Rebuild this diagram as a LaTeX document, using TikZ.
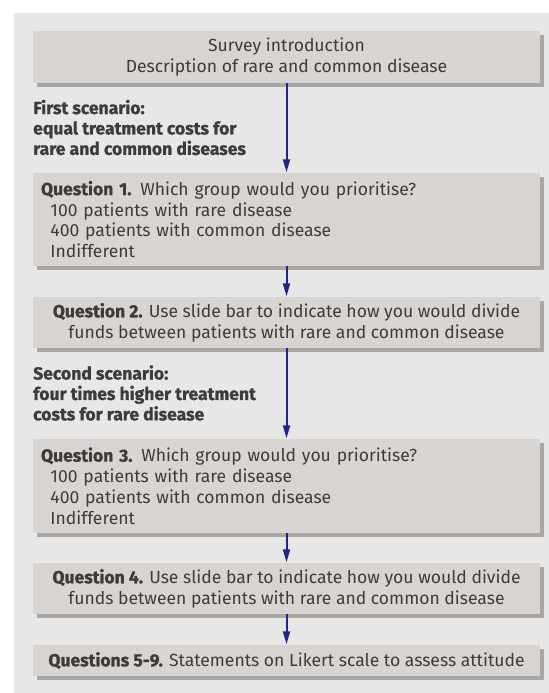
\documentclass[tikz,border=0pt]{standalone}
\usepackage{fontspec}
\setmainfont{Fira Sans}[BoldFeatures={FakeBold=1}]
\usetikzlibrary{arrows.meta,shadows}
\definecolor{bg}{HTML}{E7E7E7}
\definecolor{boxfill}{HTML}{D8D4D1}
\definecolor{shade}{HTML}{A9A6A4}
\definecolor{navy}{HTML}{25257F}
\definecolor{txt}{HTML}{3C3C3C}
\tikzset{
  box/.style={rectangle, fill=boxfill, minimum width=507bp, inner xsep=8bp, inner ysep=0pt,
    text=txt, font=\fontsize{17.6}{21}\selectfont,
    drop shadow={shadow xshift=4bp, shadow yshift=-4bp, fill=shade, opacity=1}},
  cbox/.style={box, align=center},
  lbox/.style={box, text width=491bp, align=left},
  scen/.style={anchor=west, inner sep=0pt, align=left, text=txt,
    font=\fontsize{17.6}{20.5}\selectfont\bfseries},
  arr/.style={draw=navy, line width=2bp, -{Triangle[length=13bp,width=7bp]}, shorten >=0.5bp}
}
\newcommand{\ind}{\hspace*{9.5bp}}
\begin{document}
\begin{tikzpicture}[x=1bp,y=-1bp]
\useasboundingbox (0,0) rectangle (549,693);
\fill[bg] (14,13) rectangle (549,693);

\node[cbox, minimum height=52bp] (b1) at (286.5,57) {Survey introduction\\Description of rare and common disease};

\node[scen] (s1) at (33,127.5) {First scenario:\\equal treatment costs for\\rare and common diseases};

\node[lbox, minimum height=93bp] (q1) at (286.5,219.5) {\textbf{Question 1.} Which group would you prioritise?\\\ind 100 patients with rare disease\\\ind 400 patients with common disease\\\ind Indifferent};

\node[cbox, minimum height=51bp] (q2) at (286.5,322.5) {\textbf{Question 2.} Use slide bar to indicate how you would divide\\funds between patients with rare and common disease};

\node[scen] (s2) at (33,393) {Second scenario:\\four times higher treatment\\costs for rare disease};

\node[lbox, minimum height=94bp] (q3) at (286.5,486) {\textbf{Question 3.} Which group would you prioritise?\\\ind 100 patients with rare disease\\\ind 400 patients with common disease\\\ind Indifferent};

\node[cbox, minimum height=51bp] (q4) at (286.5,588.5) {\textbf{Question 4.} Use slide bar to indicate how you would divide\\funds between patients with rare and common disease};

\node[cbox, minimum height=31bp] (q5) at (286.5,660.5) {\textbf{Questions 5-9.} Statements on Likert scale to assess attitude};

\draw[arr] (b1) -- (q1);
\draw[arr] (q1) -- (q2);
\draw[arr] (q2) -- (q3);
\draw[arr] (q3) -- (q4);
\draw[arr] (q4) -- (q5);
\end{tikzpicture}
\end{document}
